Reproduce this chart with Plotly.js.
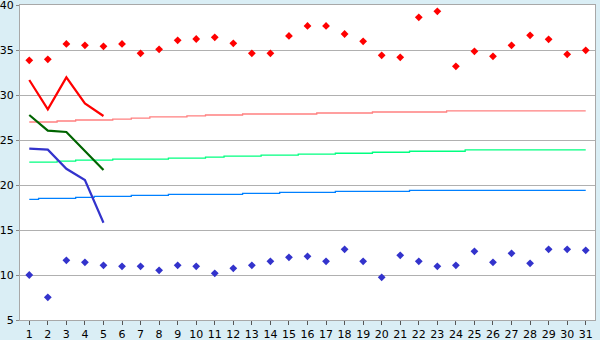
<!DOCTYPE html>
<html>
<head>
<meta charset="utf-8">
<script src="https://cdn.plot.ly/plotly-3.0.1.min.js"></script>
<style>html,body{margin:0;padding:0;background:#daeef5;}#chart{width:600px;height:340px;}</style>
</head>
<body>
<div id="chart"></div>
<script>
const days = Array.from({length: 31}, (_, i) => i + 1);
const maxTemp = [33.85, 33.96, 35.67, 35.52, 35.41, 35.67, 34.63, 35.07, 36.07, 36.22,
                 36.41, 35.74, 34.63, 34.63, 36.56, 37.67, 37.67, 36.78, 35.96, 34.41,
                 34.19, 38.63, 39.3, 33.19, 34.85, 34.3, 35.52, 36.63, 36.19, 34.52, 34.96];
const minTemp = [10.0, 7.52, 11.63, 11.41, 11.07, 10.96, 10.96, 10.52, 11.07, 10.96,
                 10.19, 10.74, 11.07, 11.52, 11.96, 12.07, 11.52, 12.85, 11.52, 9.74,
                 12.19, 11.52, 10.96, 11.07, 12.63, 11.41, 12.41, 11.3, 12.85, 12.85, 12.74];
const forecastDays = [1, 2, 3, 4, 5];
const forecastMax = [31.67, 28.41, 31.96, 29.07, 27.67];
const forecastMean = [27.78, 26.04, 25.89, 23.8, 21.67];
const forecastMin = [24.04, 23.93, 21.8, 20.56, 15.81];
const normalMax = [27.0, 27.0, 27.11, 27.22, 27.22, 27.33, 27.44, 27.56, 27.56, 27.67,
                   27.78, 27.78, 27.89, 27.89, 27.89, 27.89, 28.0, 28.0, 28.0, 28.11,
                   28.11, 28.11, 28.11, 28.24, 28.24, 28.24, 28.24, 28.24, 28.24, 28.24, 28.24];
const normalMean = [22.54, 22.54, 22.65, 22.76, 22.76, 22.87, 22.87, 22.87, 22.98, 22.98,
                    23.09, 23.2, 23.2, 23.31, 23.31, 23.42, 23.42, 23.53, 23.53, 23.64,
                    23.64, 23.75, 23.75, 23.75, 23.9, 23.9, 23.9, 23.9, 23.9, 23.9, 23.9];
const normalMin = [18.41, 18.52, 18.52, 18.63, 18.74, 18.74, 18.85, 18.85, 18.96, 18.96,
                   18.96, 18.96, 19.07, 19.07, 19.19, 19.19, 19.19, 19.3, 19.3, 19.3,
                   19.3, 19.41, 19.41, 19.41, 19.41, 19.41, 19.41, 19.41, 19.41, 19.41, 19.41];
const yTicks = [5, 10, 15, 20, 25, 30, 35, 40];

const traces = [
  {x: days, y: normalMax, mode: 'lines', line: {color: '#ff8080', width: 1.3, shape: 'hvh'}},
  {x: days, y: normalMean, mode: 'lines', line: {color: '#00ff80', width: 1.3, shape: 'hvh'}},
  {x: days, y: normalMin, mode: 'lines', line: {color: '#0080ff', width: 1.3, shape: 'hvh'}},
  {x: forecastDays, y: forecastMax, mode: 'lines', line: {color: '#ff0000', width: 2.2}},
  {x: forecastDays, y: forecastMean, mode: 'lines', line: {color: '#006400', width: 2.2}},
  {x: forecastDays, y: forecastMin, mode: 'lines', line: {color: '#3333cc', width: 2.2}},
  {x: days, y: maxTemp, mode: 'markers', marker: {symbol: 'diamond', size: 6, color: '#ff0000'}},
  {x: days, y: minTemp, mode: 'markers', marker: {symbol: 'diamond', size: 6, color: '#3333cc'}}
];

const layout = {
  width: 600, height: 340,
  margin: {l: 20, r: 5, t: 5, b: 20, pad: 0},
  paper_bgcolor: '#daeef5',
  plot_bgcolor: '#ffffff',
  showlegend: false,
  font: {family: 'DejaVu Sans, Verdana, sans-serif', size: 11, color: '#000'},
  xaxis: {
    range: [0.5, 31.5], tickvals: days, ticktext: days.map(String),
    showgrid: false, zeroline: false, showline: true, mirror: true,
    linecolor: '#a8a8a8', linewidth: 1,
    ticks: 'outside', ticklen: 4, tickcolor: '#555', tickfont: {size: 11},
    ticklabeloverflow: 'allow'
  },
  yaxis: {
    range: [5, 40], tickvals: yTicks, ticktext: yTicks.map(String),
    showgrid: true, gridcolor: '#b0b0b0', gridwidth: 1, zeroline: false,
    showline: true, mirror: true, linecolor: '#a8a8a8', linewidth: 1,
    ticks: 'outside', ticklen: 3, tickcolor: '#888', tickfont: {size: 11},
    ticklabeloverflow: 'allow'
  }
};

Plotly.newPlot('chart', traces, layout, {staticPlot: true, displayModeBar: false});
</script>
</body>
</html>
